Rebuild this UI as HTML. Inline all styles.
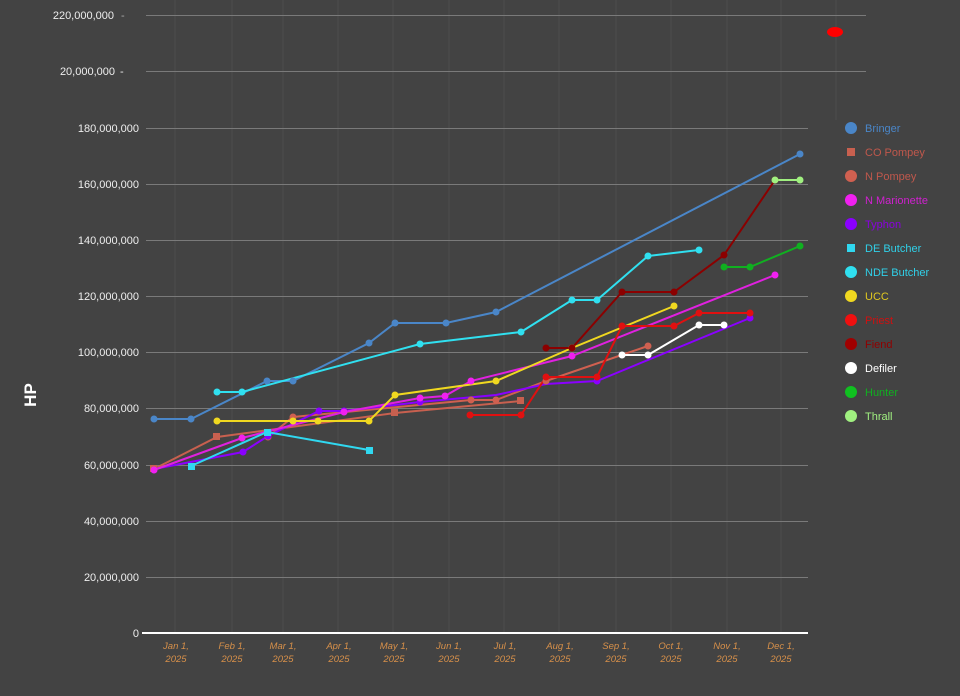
<!DOCTYPE html>
<html><head><meta charset="utf-8"><style>
html,body{margin:0;padding:0;background:#434343;}
svg{display:block;font-family:"Liberation Sans",sans-serif;}
</style></head><body>
<svg width="960" height="696" viewBox="0 0 960 696" xmlns="http://www.w3.org/2000/svg">
<rect width="960" height="696" fill="#434343"/>
<g stroke="#4c4c4c" stroke-width="1">
<line x1="175" y1="0" x2="175" y2="633"/><line x1="232" y1="0" x2="232" y2="633"/><line x1="283" y1="0" x2="283" y2="633"/><line x1="338" y1="0" x2="338" y2="633"/><line x1="393" y1="0" x2="393" y2="633"/><line x1="449" y1="0" x2="449" y2="633"/><line x1="504" y1="0" x2="504" y2="633"/><line x1="559" y1="0" x2="559" y2="633"/><line x1="616" y1="0" x2="616" y2="633"/><line x1="671" y1="0" x2="671" y2="633"/><line x1="727" y1="0" x2="727" y2="633"/><line x1="781" y1="0" x2="781" y2="633"/><line x1="836" y1="0" x2="836" y2="120"/>
</g>
<g stroke="#7a7a7a" stroke-width="1">
<line x1="146" y1="15.5" x2="866" y2="15.5"/><line x1="146" y1="71.5" x2="866" y2="71.5"/>
<line x1="146" y1="128.5" x2="808" y2="128.5"/><line x1="146" y1="184.5" x2="808" y2="184.5"/><line x1="146" y1="240.5" x2="808" y2="240.5"/><line x1="146" y1="296.5" x2="808" y2="296.5"/><line x1="146" y1="352.5" x2="808" y2="352.5"/><line x1="146" y1="408.5" x2="808" y2="408.5"/><line x1="146" y1="465.5" x2="808" y2="465.5"/><line x1="146" y1="521.5" x2="808" y2="521.5"/><line x1="146" y1="577.5" x2="808" y2="577.5"/>
</g>
<line x1="142" y1="633" x2="808" y2="633" stroke="#fff" stroke-width="2"/>
<g fill="#eee" font-size="11" text-anchor="end">
<text x="114" y="19">220,000,000</text><text x="115" y="75">20,000,000</text>
<text x="139" y="132">180,000,000</text><text x="139" y="188">160,000,000</text><text x="139" y="244">140,000,000</text><text x="139" y="300">120,000,000</text><text x="139" y="356">100,000,000</text><text x="139" y="412">80,000,000</text><text x="139" y="469">60,000,000</text><text x="139" y="525">40,000,000</text><text x="139" y="581">20,000,000</text><text x="139" y="637">0</text>
</g>
<text x="121" y="19" fill="#aaa" font-size="11">-</text><text x="120" y="75" fill="#eee" font-size="11">-</text>
<text transform="translate(36,395) rotate(-90)" fill="#fff" font-size="17" font-weight="bold" text-anchor="middle">HP</text>
<g fill="#d7904a" font-size="9.5" font-style="italic" text-anchor="middle">
<text x="176" y="649">Jan 1,</text><text x="176" y="662">2025</text>
<text x="232" y="649">Feb 1,</text><text x="232" y="662">2025</text>
<text x="283" y="649">Mar 1,</text><text x="283" y="662">2025</text>
<text x="339" y="649">Apr 1,</text><text x="339" y="662">2025</text>
<text x="394" y="649">May 1,</text><text x="394" y="662">2025</text>
<text x="449" y="649">Jun 1,</text><text x="449" y="662">2025</text>
<text x="505" y="649">Jul 1,</text><text x="505" y="662">2025</text>
<text x="560" y="649">Aug 1,</text><text x="560" y="662">2025</text>
<text x="616" y="649">Sep 1,</text><text x="616" y="662">2025</text>
<text x="671" y="649">Oct 1,</text><text x="671" y="662">2025</text>
<text x="727" y="649">Nov 1,</text><text x="727" y="662">2025</text>
<text x="781" y="649">Dec 1,</text><text x="781" y="662">2025</text>
</g>
<ellipse cx="835" cy="32" rx="8" ry="5" fill="#f00"/>
<g fill="none" stroke-width="2">
<polyline stroke="#4a86c8" points="154,419 191,419 267,381 293,381 369,343 395,323 446,323 496,312 800,154"/>
<polyline stroke="#c8604f" points="154,469 217,437 395,413 521,401"/>
<polyline stroke="#d06050" points="268,437 293,417 471,400 496,400 546,381 648,346"/>
<polyline stroke="#8a00ff" points="154,469 243,452 268,436 319,411 344,411 420,402 496,395 546,384 597,381 750,318"/>
<polyline stroke="#e020e0" points="154,470 242,438 344,412 420,398 445,396 471,381 572,356 775,275"/>
<polyline stroke="#30d8f0" points="191,466 267,432 369,450"/>
<polyline stroke="#30e0f0" points="217,392 242,392 420,344 521,332 572,300 597,300 648,256 699,250"/>
<polyline stroke="#f0d820" points="217,421 293,421 318,421 369,421 395,395 496,381 572,348 674,306"/>
<polyline stroke="#e01010" points="470,415 521,415 546,377 597,377 622,326 674,326 699,313 750,313"/>
<polyline stroke="#8b0000" points="546,348 572,348 622,292 674,292 724,255 775,180"/>
<polyline stroke="#fff" points="622,355 648,355 699,325 724,325"/>
<polyline stroke="#10b020" points="724,267 750,267 800,246"/>
<polyline stroke="#a0f080" points="775,180 800,180"/>
</g>
<g>
<g fill="#4a86c8"><circle cx="154" cy="419" r="3.5"/><circle cx="191" cy="419" r="3.5"/><circle cx="267" cy="381" r="3.5"/><circle cx="293" cy="381" r="3.5"/><circle cx="369" cy="343" r="3.5"/><circle cx="395" cy="323" r="3.5"/><circle cx="446" cy="323" r="3.5"/><circle cx="496" cy="312" r="3.5"/><circle cx="800" cy="154" r="3.5"/></g>
<g fill="#c8604f"><rect x="150" y="465" width="7" height="7"/><rect x="213" y="433" width="7" height="7"/><rect x="391" y="409" width="7" height="7"/><rect x="517" y="397" width="7" height="7"/></g>
<g fill="#d06050"><circle cx="268" cy="437" r="3.5"/><circle cx="293" cy="417" r="3.5"/><circle cx="471" cy="400" r="3.5"/><circle cx="496" cy="400" r="3.5"/><circle cx="546" cy="381" r="3.5"/><circle cx="648" cy="346" r="3.5"/></g>
<g fill="#8a00ff"><circle cx="243" cy="452" r="3.5"/><circle cx="268" cy="436" r="3.5"/><circle cx="319" cy="411" r="3.5"/><circle cx="344" cy="411" r="3.5"/><circle cx="420" cy="402" r="3.5"/><circle cx="597" cy="381" r="3.5"/><circle cx="750" cy="318" r="3.5"/></g>
<g fill="#f020f0"><circle cx="154" cy="470" r="3.5"/><circle cx="242" cy="438" r="3.5"/><circle cx="344" cy="412" r="3.5"/><circle cx="420" cy="398" r="3.5"/><circle cx="445" cy="396" r="3.5"/><circle cx="471" cy="381" r="3.5"/><circle cx="572" cy="356" r="3.5"/><circle cx="775" cy="275" r="3.5"/></g>
<g fill="#30d8f0"><rect x="188" y="463" width="7" height="7"/><rect x="264" y="429" width="7" height="7"/><rect x="366" y="447" width="7" height="7"/></g>
<g fill="#30e0f0"><circle cx="217" cy="392" r="3.5"/><circle cx="242" cy="392" r="3.5"/><circle cx="420" cy="344" r="3.5"/><circle cx="521" cy="332" r="3.5"/><circle cx="572" cy="300" r="3.5"/><circle cx="597" cy="300" r="3.5"/><circle cx="648" cy="256" r="3.5"/><circle cx="699" cy="250" r="3.5"/></g>
<g fill="#f0d820"><circle cx="217" cy="421" r="3.5"/><circle cx="293" cy="421" r="3.5"/><circle cx="318" cy="421" r="3.5"/><circle cx="369" cy="421" r="3.5"/><circle cx="395" cy="395" r="3.5"/><circle cx="496" cy="381" r="3.5"/><circle cx="572" cy="348" r="3.5"/><circle cx="674" cy="306" r="3.5"/></g>
<g fill="#e01010"><circle cx="470" cy="415" r="3.5"/><circle cx="521" cy="415" r="3.5"/><circle cx="546" cy="377" r="3.5"/><circle cx="597" cy="377" r="3.5"/><circle cx="622" cy="326" r="3.5"/><circle cx="674" cy="326" r="3.5"/><circle cx="699" cy="313" r="3.5"/><circle cx="750" cy="313" r="3.5"/></g>
<g fill="#8b0000"><circle cx="546" cy="348" r="3.5"/><circle cx="572" cy="348" r="3.5"/><circle cx="622" cy="292" r="3.5"/><circle cx="674" cy="292" r="3.5"/><circle cx="724" cy="255" r="3.5"/><circle cx="775" cy="180" r="3.5"/></g>
<g fill="#fff"><circle cx="622" cy="355" r="3.5"/><circle cx="648" cy="355" r="3.5"/><circle cx="699" cy="325" r="3.5"/><circle cx="724" cy="325" r="3.5"/></g>
<g fill="#10b020"><circle cx="724" cy="267" r="3.5"/><circle cx="750" cy="267" r="3.5"/><circle cx="800" cy="246" r="3.5"/></g>
<g fill="#a0f080"><circle cx="775" cy="180" r="3.5"/><circle cx="800" cy="180" r="3.5"/></g>
</g>
<g font-size="11">
<circle cx="851" cy="128" r="6" fill="#4a86c8"/><text x="865" y="132" fill="#4a86c8">Bringer</text>
<rect x="847" y="148" width="8" height="8" fill="#c8604f"/><text x="865" y="156" fill="#c0584c">CO Pompey</text>
<circle cx="851" cy="176" r="6" fill="#d06050"/><text x="865" y="180" fill="#c0584c">N Pompey</text>
<circle cx="851" cy="200" r="6" fill="#f020f0"/><text x="865" y="204" fill="#d020d0">N Marionette</text>
<circle cx="851" cy="224" r="6" fill="#8a00ff"/><text x="865" y="228" fill="#8a00e0">Typhon</text>
<rect x="847" y="244" width="8" height="8" fill="#30d8f0"/><text x="865" y="252" fill="#30d0e8">DE Butcher</text>
<circle cx="851" cy="272" r="6" fill="#30e0f0"/><text x="865" y="276" fill="#30d0e8">NDE Butcher</text>
<circle cx="851" cy="296" r="6" fill="#f0d820"/><text x="865" y="300" fill="#e0c820">UCC</text>
<circle cx="851" cy="320" r="6" fill="#f01010"/><text x="865" y="324" fill="#d01010">Priest</text>
<circle cx="851" cy="344" r="6" fill="#a00000"/><text x="865" y="348" fill="#900000">Fiend</text>
<circle cx="851" cy="368" r="6" fill="#fff"/><text x="865" y="372" fill="#fff">Defiler</text>
<circle cx="851" cy="392" r="6" fill="#10c020"/><text x="865" y="396" fill="#10b020">Hunter</text>
<circle cx="851" cy="416" r="6" fill="#a0f080"/><text x="865" y="420" fill="#a0f080">Thrall</text>
</g>
</svg>
</body></html>
